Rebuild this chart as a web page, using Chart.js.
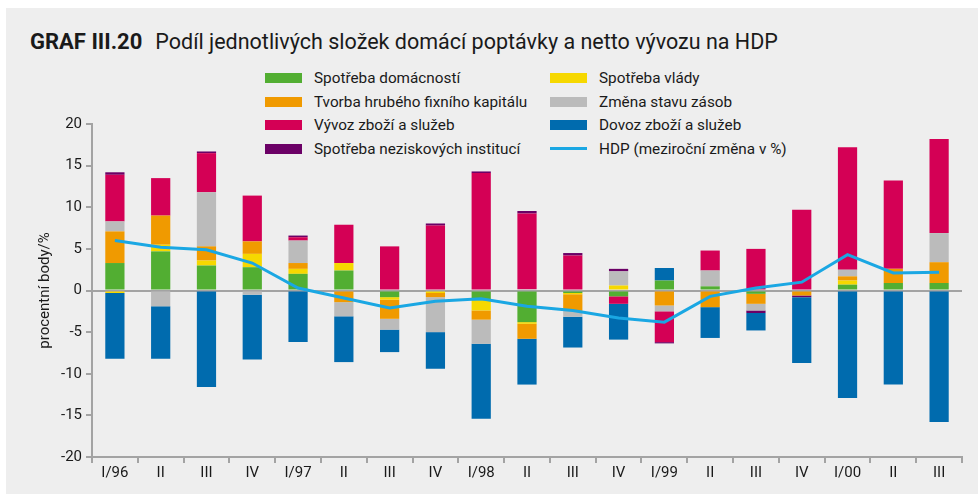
<!DOCTYPE html>
<html lang="cs">
<head>
<meta charset="utf-8">
<title>GRAF III.20</title>
<script src="https://cdn.jsdelivr.net/npm/chart.js@4.4.1/dist/chart.umd.min.js"></script>
<style>
	html, body { margin: 0; padding: 0; background: #fff; }
	body { width: 978px; height: 494px; position: relative; overflow: hidden; font-family: Roboto, "Open Sans", sans-serif; color: #1a1a1a; }
	#panel { position: absolute; left: 6px; top: 8px; right: 0; bottom: 0; background: #eeeeee; }
	#title { position: absolute; left: 30px; top: 29px; font-size: 21.5px; white-space: nowrap; }
	#title b { font-size: 22px; margin-right: 13px; }
	#chart { position: absolute; left: 0; top: 0; }
	#legend { position: absolute; left: 265px; top: 66px; display: grid; grid-template-columns: 285px 300px; grid-auto-rows: 23.7px; font-size: 15.3px; }
	#legend .item { display: flex; align-items: center; white-space: nowrap; }
	#legend .sw { width: 37px; height: 10px; margin-right: 12px; }
	#legend .sw.line { height: 3px; }
</style>
</head>
<body>
<div id="panel"></div>
<div id="title"><b>GRAF III.20</b>Podíl jednotlivých složek domácí poptávky a netto vývozu na HDP</div>
<div id="legend"></div>
<canvas id="chart" width="978" height="494"></canvas>
<script>
const quarters = ["I/96", "II", "III", "IV", "I/97", "II", "III", "IV", "I/98", "II", "III", "IV", "I/99", "II", "III", "IV", "I/00", "II", "III"];

const households = [3.3, 4.7, 3.0, 2.8, 2.0, 2.4, -0.8, 0, -1.2, -3.8, -0.3, -0.7, 1.2, 0.5, -0.4, 0, 0.7, 0.9, 0.9];
const government = [-0.3, 0.8, 0.6, 1.6, 0.6, 0.9, -0.3, -0.3, -1.2, -0.2, -0.15, 0.6, 0, 0, 0, 0, 0.5, 0, 0];
const investment = [3.8, 3.5, 1.7, 1.5, 0.7, -1.4, -2.3, -0.5, -1.1, -1.8, -2.0, 0, -1.8, -2.0, -1.2, -0.6, 0.5, 1.7, 2.5];
const inventories = [1.2, -1.9, 6.5, -0.5, 2.7, -1.7, -1.3, -4.2, -2.9, 0.15, -0.7, 1.7, -0.7, 1.9, -0.8, 0, 0.8, 0, 3.5];
const exports = [5.6, 4.5, 4.7, 5.5, 0.4, 4.6, 5.3, 7.8, 14.1, 9.1, 4.2, -0.9, -3.7, 2.4, 5.0, 9.7, 14.7, 10.6, 11.3];
const nonprofit = [0.3, 0, 0.2, 0, 0.2, 0, 0, 0.25, 0.2, 0.3, 0.3, 0.3, -0.15, 0, -0.3, -0.2, 0, 0, 0];
const imports = [-7.9, -6.3, -11.6, -7.8, -6.2, -5.5, -2.7, -4.4, -9.0, -5.5, -3.7, -4.3, 1.5, -3.7, -2.1, -7.9, -12.9, -11.3, -15.8];
const gdp = [6.0, 5.2, 4.9, 3.3, 0.3, -0.9, -2.1, -1.3, -1.0, -1.9, -2.4, -3.3, -3.8, -0.7, 0.3, 1.0, 4.3, 2.1, 2.2];

const yTicks = { min: -20, max: 20, step: 5 };

// legend is read row by row, two per row (indexes into datasets)
const legendOrder = [0, 1, 2, 3, 4, 6, 5, 7];

const axisGray = "#a3a3a3";
const textColor = "#1a1a1a";
const font = { family: "Roboto, 'Open Sans', sans-serif", size: 15 };

function bar(label, data, color) {
	return {
		type: "bar",
		label: label,
		data: data,
		backgroundColor: color,
		borderWidth: 0,
		categoryPercentage: 1,
		barPercentage: 0.42
	};
}

const datasets = [
	bar("Spotřeba domácností", households, "#52ae32"),
	bar("Spotřeba vlády", government, "#f6d800"),
	bar("Tvorba hrubého fixního kapitálu", investment, "#f09a00"),
	bar("Změna stavu zásob", inventories, "#bbbbbb"),
	bar("Vývoz zboží a služeb", exports, "#d40055"),
	bar("Spotřeba neziskových institucí", nonprofit, "#6b0066"),
	bar("Dovoz zboží a služeb", imports, "#006bae"),
	{
		type: "line",
		label: "HDP (meziroční změna v %)",
		data: gdp,
		borderColor: "#1aa7e3",
		borderWidth: 3,
		pointRadius: 0,
		tension: 0,
		fill: false,
		stack: "hdp",
		order: -1
	}
];

const chart = new Chart(document.getElementById("chart"), {
	type: "bar",
	data: { labels: quarters, datasets: datasets },
	options: {
		responsive: false,
		animation: false,
		layout: { padding: { left: 32, right: 16, top: 124, bottom: 0 } },
		plugins: { legend: { display: false }, tooltip: { enabled: false } },
		scales: {
			x: {
				stacked: true,
				offset: true,
				grid: { offset: true, drawOnChartArea: false, tickLength: 6, tickColor: axisGray, lineWidth: 2 },
				border: { color: axisGray, width: 2 },
				ticks: { font: font, color: textColor, maxRotation: 0, autoSkip: false, padding: 1 },
				afterFit: s => { s.height = 37; }
			},
			y: {
				stacked: true,
				min: yTicks.min,
				max: yTicks.max,
				ticks: { stepSize: yTicks.step, font: font, color: textColor, padding: 4 },
				grid: {
					color: c => (c.tick && c.tick.value === 0) ? axisGray : "rgba(0,0,0,0)",
					lineWidth: 2,
					tickColor: axisGray,
					tickLength: 6
				},
				border: { color: axisGray, width: 2 },
				title: { display: true, text: "procentní body/%", font: font, color: textColor, padding: 4 },
				afterFit: s => { s.width = 60; }
			}
		}
	}
});

const $legend = document.getElementById("legend");
legendOrder.forEach(i => {
	const ds = chart.data.datasets[i];
	const item = document.createElement("div");
	item.className = "item";
	const sw = document.createElement("span");
	sw.className = ds.type === "line" ? "sw line" : "sw";
	sw.style.background = ds.type === "line" ? ds.borderColor : ds.backgroundColor;
	item.appendChild(sw);
	item.appendChild(document.createTextNode(ds.label));
	$legend.appendChild(item);
});
</script>
</body>
</html>
